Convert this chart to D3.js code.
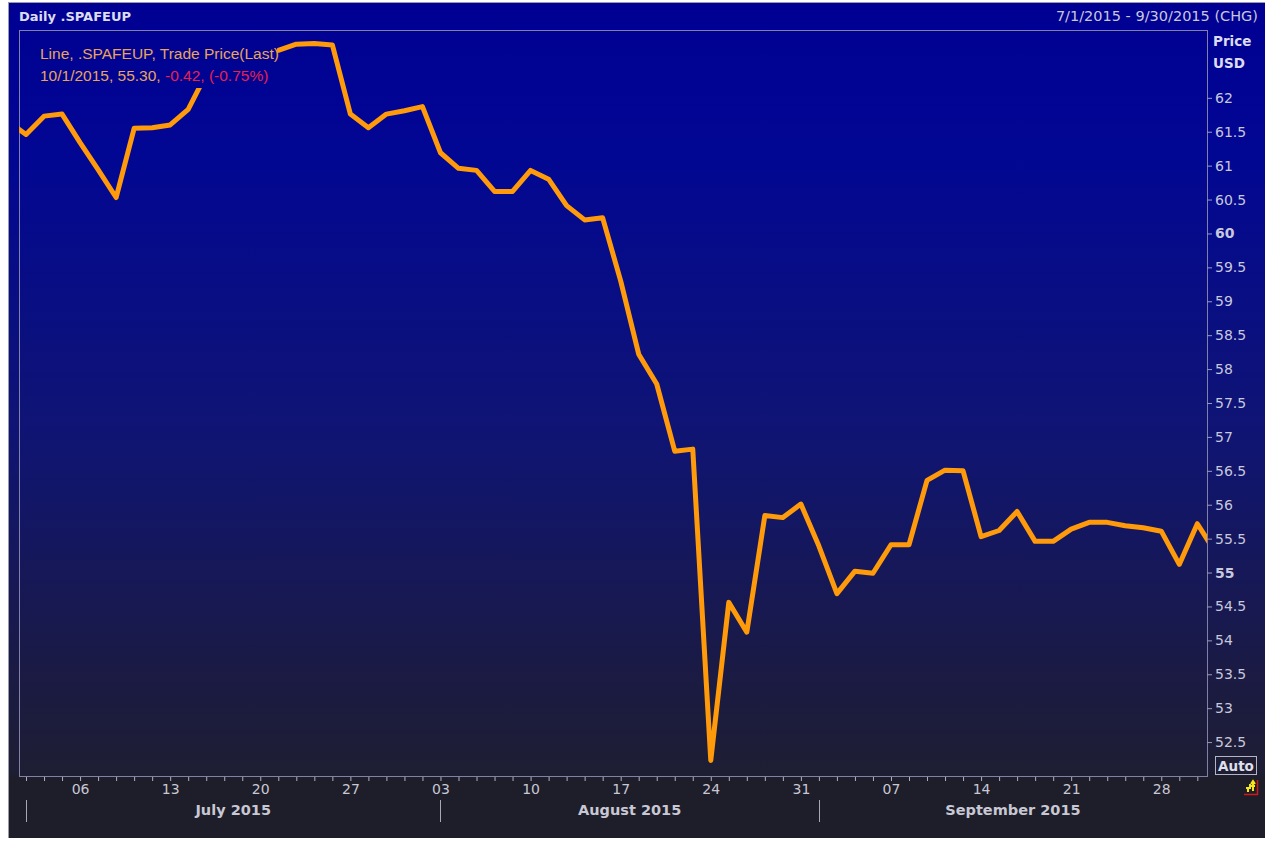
<!doctype html>
<html lang="en">
<head>
<meta charset="utf-8">
<title>Daily .SPAFEUP</title>
<script src="https://d3js.org/d3.v7.min.js"></script>
<style>
  html, body { margin: 0; padding: 0; background: #ffffff; }
  svg { display: block; font-family: "DejaVu Sans", Verdana, sans-serif; }
</style>
</head>
<body>
<div id="chart"></div>
<script>
// trading days shown (weekdays only, axis skips weekends)
var dates = [
  "2015-06-30",
  "2015-07-01", "2015-07-02", "2015-07-03",
  "2015-07-06", "2015-07-07", "2015-07-08", "2015-07-09", "2015-07-10",
  "2015-07-13", "2015-07-14", "2015-07-15", "2015-07-16", "2015-07-17",
  "2015-07-20", "2015-07-21", "2015-07-22", "2015-07-23", "2015-07-24",
  "2015-07-27", "2015-07-28", "2015-07-29", "2015-07-30", "2015-07-31",
  "2015-08-03", "2015-08-04", "2015-08-05", "2015-08-06", "2015-08-07",
  "2015-08-10", "2015-08-11", "2015-08-12", "2015-08-13", "2015-08-14",
  "2015-08-17", "2015-08-18", "2015-08-19", "2015-08-20", "2015-08-21",
  "2015-08-24", "2015-08-25", "2015-08-26", "2015-08-27", "2015-08-28",
  "2015-08-31", "2015-09-01", "2015-09-02", "2015-09-03", "2015-09-04",
  "2015-09-07", "2015-09-08", "2015-09-09", "2015-09-10", "2015-09-11",
  "2015-09-14", "2015-09-15", "2015-09-16", "2015-09-17", "2015-09-18",
  "2015-09-21", "2015-09-22", "2015-09-23", "2015-09-24", "2015-09-25",
  "2015-09-28", "2015-09-29", "2015-09-30",
  "2015-10-01"
];

// .SPAFEUP trade price (last)
var prices = [
  61.65,
  61.46, 61.73, 61.76,
  61.34, 60.94, 60.53, 61.55, 61.56,
  61.60, 61.83, 62.35, 62.55, 62.60,
  62.65, 62.70, 62.79, 62.80, 62.78,
  61.76, 61.56, 61.76, 61.81, 61.87,
  61.19, 60.96, 60.93, 60.62, 60.62,
  60.93, 60.80, 60.41, 60.20, 60.23,
  59.30, 58.22, 57.78, 56.79, 56.82,
  52.23, 54.56, 54.12, 55.84, 55.81,
  56.01, 55.39, 54.69, 55.02, 54.99,
  55.41, 55.41, 56.36, 56.51, 56.50,
  55.53, 55.62, 55.90, 55.46, 55.46,
  55.64, 55.74, 55.74, 55.69, 55.66,
  55.61, 55.12, 55.72,
  55.30
];

var yTicks = [52.5, 53, 53.5, 54, 54.5, 55, 55.5, 56, 56.5, 57, 57.5, 58, 58.5,
              59, 59.5, 60, 60.5, 61, 61.5, 62];
var yBold = [55, 60];

var monthStarts = ["2015-07-01", "2015-08-03", "2015-09-01"];
var monthLabels = ["July 2015", "August 2015", "September 2015"];

var W = 1265, H = 841;
var frame = { left: 8, top: 2, right: 1265, bottom: 838 };
var plot = { left: 19, top: 30, right: 1207, bottom: 776 };

var svg = d3.select("#chart").append("svg")
    .attr("width", W)
    .attr("height", H);

var defs = svg.append("defs");
var grad = defs.append("linearGradient")
    .attr("id", "bg")
    .attr("gradientUnits", "userSpaceOnUse")
    .attr("x1", 0).attr("y1", 0)
    .attr("x2", 0).attr("y2", 780);
grad.append("stop").attr("offset", "0").attr("stop-color", "#000092");
grad.append("stop").attr("offset", "0.2").attr("stop-color", "#020793");
grad.append("stop").attr("offset", "0.55").attr("stop-color", "#0f1474");
grad.append("stop").attr("offset", "0.85").attr("stop-color", "#1a1a46");
grad.append("stop").attr("offset", "1").attr("stop-color", "#1e1e32");

defs.append("clipPath").attr("id", "plotclip")
  .append("rect")
    .attr("x", plot.left).attr("y", plot.top)
    .attr("width", plot.right - plot.left)
    .attr("height", plot.bottom - plot.top);

// panel background
svg.append("rect")
    .attr("x", frame.left).attr("y", frame.top)
    .attr("width", frame.right - frame.left)
    .attr("height", frame.bottom - frame.top)
    .attr("fill", "url(#bg)");

svg.append("rect")
    .attr("x", frame.left).attr("y", plot.bottom)
    .attr("width", frame.right - frame.left)
    .attr("height", frame.bottom - plot.bottom)
    .attr("fill", "#1e1e2a");

svg.append("line")
    .attr("x1", frame.left + 0.5).attr("x2", frame.left + 0.5)
    .attr("y1", frame.top).attr("y2", frame.bottom)
    .attr("stroke", "#9a9aa8").attr("stroke-width", 1);
svg.append("line")
    .attr("x1", frame.left).attr("x2", frame.right)
    .attr("y1", frame.top + 0.5).attr("y2", frame.top + 0.5)
    .attr("stroke", "#9a9aa8").attr("stroke-width", 1);

// scales
var x = d3.scalePoint()
    .domain(dates)
    .range([8, 8 + 18.02 * (dates.length - 1)]);

var y = d3.scaleLinear()
    .domain([52, 63])
    .range([plot.bottom, plot.top]);

// plot border
svg.append("rect")
    .attr("x", plot.left + 0.5).attr("y", plot.top + 0.5)
    .attr("width", plot.right - plot.left)
    .attr("height", plot.bottom - plot.top)
    .attr("fill", "none")
    .attr("stroke", "#8080a8")
    .attr("stroke-width", 1);

// price line
var line = d3.line()
    .x(function (d, i) { return x(dates[i]); })
    .y(function (d) { return y(d); });

svg.append("g")
    .attr("clip-path", "url(#plotclip)")
  .append("path")
    .datum(prices)
    .attr("d", line)
    .attr("fill", "none")
    .attr("stroke", "#ff9a0a")
    .attr("stroke-width", 5)
    .attr("stroke-linejoin", "round")
    .attr("stroke-linecap", "round");

// legend box covers the line
svg.append("rect")
    .attr("x", 36).attr("y", 38)
    .attr("width", 241).attr("height", 50)
    .attr("fill", "url(#bg)");

var leg = svg.append("g")
    .style("font-size", "15.5px")
    .style("font-family", "'Liberation Sans', Arial, sans-serif");
leg.append("text")
    .attr("x", 40).attr("y", 59)
    .attr("fill", "#e8a45c")
    .text("Line, .SPAFEUP, Trade Price(Last)");
var l2 = leg.append("text")
    .attr("x", 40).attr("y", 81)
    .attr("fill", "#e8a45c");
l2.append("tspan").text("10/1/2015, 55.30, ");
l2.append("tspan").attr("fill", "#e8204c").text("-0.42, (-0.75%)");

// header
svg.append("text")
    .attr("x", 19).attr("y", 21)
    .attr("fill", "#dcdcf0")
    .style("font-size", "13px")
    .style("font-weight", "bold")
    .text("Daily .SPAFEUP");

svg.append("text")
    .attr("x", 1258).attr("y", 21)
    .attr("text-anchor", "end")
    .attr("fill", "#c8c8dc")
    .style("font-size", "14.5px")
    .text("7/1/2015 - 9/30/2015 (CHG)");

svg.append("text")
    .attr("x", 1213).attr("y", 46)
    .attr("fill", "#dcdcf0")
    .style("font-size", "13.5px")
    .style("font-weight", "bold")
    .text("Price");
svg.append("text")
    .attr("x", 1213).attr("y", 68)
    .attr("fill", "#dcdcf0")
    .style("font-size", "13.5px")
    .style("font-weight", "bold")
    .text("USD");

// y axis
var yAxis = svg.append("g")
    .attr("transform", "translate(" + plot.right + ",0)")
    .call(d3.axisRight(y)
        .tickValues(yTicks)
        .tickSize(5)
        .tickPadding(3)
        .tickFormat(function (d) { return String(d); }));
yAxis.select(".domain").remove();
yAxis.selectAll("line").attr("stroke", "#9a9ab8");
yAxis.selectAll("text")
    .attr("fill", "#c8c8dc")
    .style("font-size", "14px")
    .style("font-family", "'DejaVu Sans', Verdana, sans-serif")
    .style("font-weight", function (d) { return yBold.indexOf(d) >= 0 ? "bold" : "normal"; });

// x axis: a tick every trading day, label on mondays
var dayTicks = dates.filter(function (d) { return d >= "2015-07-01" && d <= "2015-09-30"; });
var parse = d3.timeParse("%Y-%m-%d");
var xAxis = svg.append("g")
    .attr("transform", "translate(0," + plot.bottom + ")")
    .call(d3.axisBottom(x)
        .tickValues(dayTicks)
        .tickSize(5)
        .tickPadding(3)
        .tickFormat(function (d) {
            var t = parse(d);
            return t.getDay() === 1 ? d3.timeFormat("%d")(t) : "";
        }));
xAxis.select(".domain").remove();
xAxis.selectAll("line").attr("stroke", "#b0b0c0").attr("y1", 1);
xAxis.selectAll("text")
    .attr("fill", "#c8c8d4")
    .style("font-size", "14px")
    .style("font-family", "'DejaVu Sans', Verdana, sans-serif");

// month bands
var monthEdges = monthStarts.map(function (d) { return x(d); });
svg.append("g").selectAll("line")
    .data(monthEdges)
    .enter()
    .append("line")
    .attr("x1", function (d) { return Math.round(d) + 0.5; })
    .attr("x2", function (d) { return Math.round(d) + 0.5; })
    .attr("y1", 800).attr("y2", 822)
    .attr("stroke", "#a8a8b4");

svg.append("g").selectAll("text")
    .data(monthLabels)
    .enter()
    .append("text")
    .attr("x", function (d, i) {
        var a = monthEdges[i];
        var b = i < monthEdges.length - 1 ? monthEdges[i + 1] : plot.right;
        return (a + b) / 2;
    })
    .attr("y", 815)
    .attr("text-anchor", "middle")
    .attr("fill", "#c8c8d4")
    .style("font-size", "14.5px")
    .style("font-weight", "bold")
    .text(function (d) { return d; });

// "Auto" box
svg.append("rect")
    .attr("x", 1215.5).attr("y", 756.5)
    .attr("width", 41).attr("height", 18)
    .attr("fill", "none")
    .attr("stroke", "#b4b4c4");
svg.append("text")
    .attr("x", 1236).attr("y", 771)
    .attr("text-anchor", "middle")
    .attr("fill", "#e0e0ec")
    .style("font-size", "13.5px")
    .style("font-weight", "bold")
    .text("Auto");

// small yellow toggle icon
var ic = svg.append("g").attr("transform", "translate(1243,779)");
ic.append("path")
    .attr("d", "M14.5,1 V15.5 H1")
    .attr("fill", "none")
    .attr("stroke", "#d01818")
    .attr("stroke-width", 1.5);
ic.append("path")
    .attr("d", "M3,9 H7 V5 M5,9 V13 M8,7 H12 M10,3 V12 M8,5 L10,2 L12,5")
    .attr("fill", "none")
    .attr("stroke", "#f4e81c")
    .attr("stroke-width", 2);
</script>
</body>
</html>
